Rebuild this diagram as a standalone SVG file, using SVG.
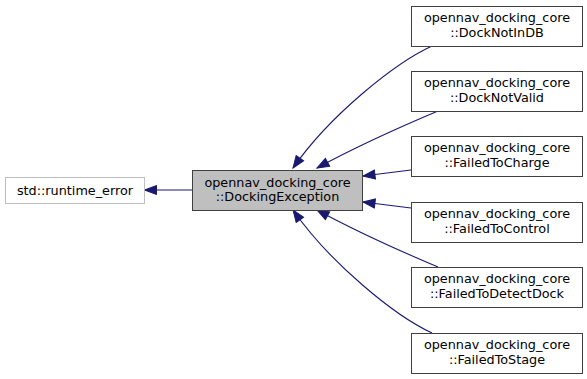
<svg xmlns="http://www.w3.org/2000/svg" width="587" height="379" viewBox="0 0 587 379">
<style>
text{font-family:"DejaVu Sans","Liberation Sans",sans-serif;font-size:12.8px;fill:#000;text-anchor:middle}
.box{fill:#fff;stroke:#404040;stroke-width:1}
.ext{fill:#fff;stroke:#bfbfbf;stroke-width:1}
.cur{fill:#bfbfbf;stroke:#404040;stroke-width:1}
.edge{fill:none;stroke:#191970;stroke-width:1.1;marker-end:url(#ah)}
</style>
<defs>
<marker id="ah" markerUnits="userSpaceOnUse" markerWidth="14" markerHeight="12" viewBox="-1 -6 14 12" refX="12" refY="0" orient="auto">
<path d="M0,-4.5 L12,0 L0,4.5 z" fill="#191970" stroke="#191970" stroke-width="1"/>
</marker>
</defs>
<g id="connectors">
<path class="edge" d="M192,190 L144.5,190"/>
<path class="edge" d="M432,46 C395,63 330,115 293,168"/>
<path class="edge" d="M438,111 C400,127 350,150 317,168"/>
<path class="edge" d="M411,170 L363,176"/>
<path class="edge" d="M411,208 L363,202"/>
<path class="edge" d="M438,267 C400,251 350,228 317,210"/>
<path class="edge" d="M432,333 C395,316 330,263 293,210"/>
</g>
<g id="runtime_error">
<rect class="ext" x="5.5" y="177.5" width="139" height="26"/>
<text x="75" y="195">std::runtime_error</text>
</g>
<g id="DockingException">
<rect class="cur" x="192.5" y="170.5" width="170" height="40"/>
<text x="277.5" y="186.5">opennav_docking_core</text>
<text x="277.5" y="201">::DockingException</text>
</g>
<g id="DockNotInDB">
<rect class="box" x="411.5" y="6.5" width="171" height="40"/>
<text x="497" y="22">opennav_docking_core</text>
<text x="497" y="36.5">::DockNotInDB</text>
</g>
<g id="DockNotValid">
<rect class="box" x="411.5" y="71.5" width="171" height="40"/>
<text x="497" y="87">opennav_docking_core</text>
<text x="497" y="101.5">::DockNotValid</text>
</g>
<g id="FailedToCharge">
<rect class="box" x="411.5" y="136.5" width="171" height="40"/>
<text x="497" y="152">opennav_docking_core</text>
<text x="497" y="166.5">::FailedToCharge</text>
</g>
<g id="FailedToControl">
<rect class="box" x="411.5" y="202.5" width="171" height="40"/>
<text x="497" y="218">opennav_docking_core</text>
<text x="497" y="232.5">::FailedToControl</text>
</g>
<g id="FailedToDetectDock">
<rect class="box" x="411.5" y="267.5" width="171" height="40"/>
<text x="497" y="283">opennav_docking_core</text>
<text x="497" y="297.5">::FailedToDetectDock</text>
</g>
<g id="FailedToStage">
<rect class="box" x="411.5" y="333.5" width="171" height="40"/>
<text x="497" y="349">opennav_docking_core</text>
<text x="497" y="363.5">::FailedToStage</text>
</g>
</svg>
